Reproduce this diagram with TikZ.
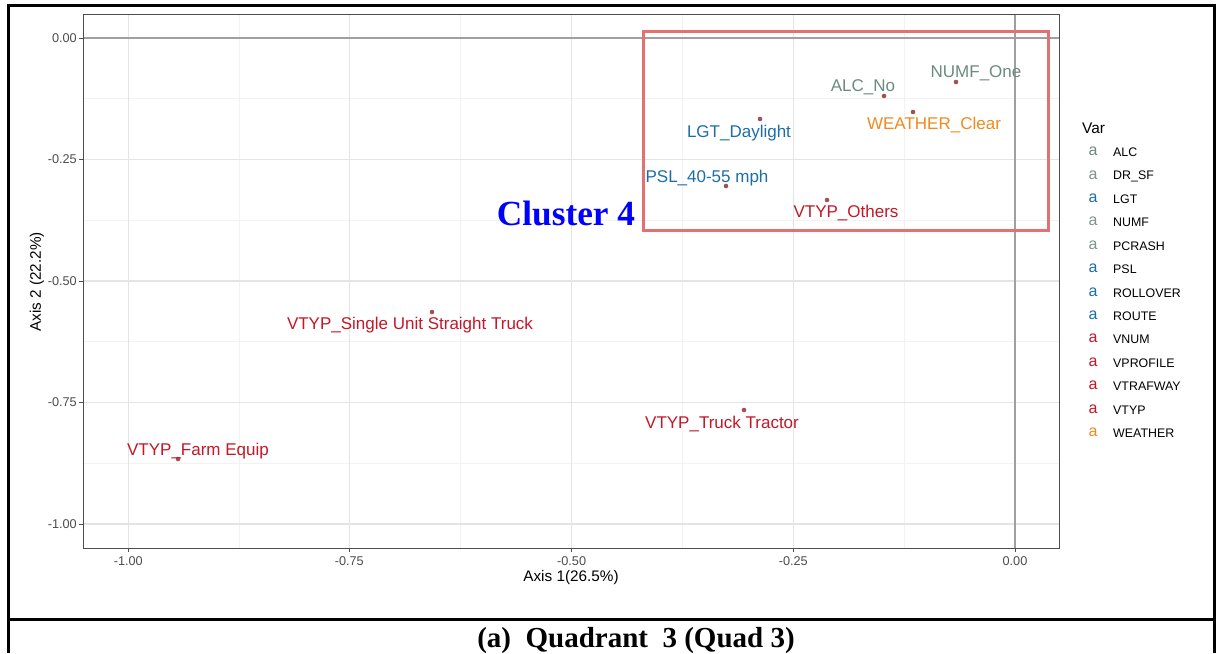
\documentclass[tikz,border=0pt]{standalone}
\usepackage{fontspec}
\setmainfont{Liberation Sans}
\newfontfamily\serifbf{Liberation Serif}
\definecolor{cgray}{RGB}{108,138,128}
\definecolor{cgrayb}{RGB}{128,148,138}
\definecolor{cblue}{RGB}{28,110,168}
\definecolor{corange}{RGB}{240,138,30}
\definecolor{cred}{RGB}{194,24,40}
\definecolor{cpt}{RGB}{160,82,82}
\definecolor{cbox}{RGB}{226,114,114}
\definecolor{gmaj}{RGB}{228,228,228}
\definecolor{gmin}{RGB}{242,242,242}
\definecolor{gzero}{RGB}{160,160,160}
\definecolor{tick}{RGB}{77,77,77}
\tikzset{
  ptdot/.style={circle,fill=cpt,inner sep=0pt,minimum size=4.6pt},
  lab/.style={inner sep=0pt,font=\fontsize{17}{19}\selectfont},
  ytl/.style={inner sep=0pt,anchor=east,text=tick,font=\fontsize{12.7}{14}\selectfont},
  xtl/.style={inner sep=0pt,anchor=center,text=tick,font=\fontsize{12.7}{14}\selectfont},
  legkey/.style={inner sep=0pt,font=\fontsize{16}{18}\selectfont},
  legtxt/.style={inner sep=0pt,anchor=west,font=\fontsize{12.4}{14}\selectfont},
  frameln/.style={line width=3pt,black},
}
\begin{document}
\begin{tikzpicture}[x=1pt,y=-1pt]
\useasboundingbox (0,0) rectangle (1217,653);
\fill[white] (0,0) rectangle (1217,653);
% minor grid
\foreach \gx in {239,460.8,682.5,904.2} \draw[gmin,line width=0.8pt] (\gx,14) -- (\gx,548);
\foreach \gy in {98.75,220.25,341.75,463.25} \draw[gmin,line width=0.8pt] (83,\gy) -- (1059,\gy);
% major grid
\foreach \gx in {128.3,349.3,571.6,793.3} \draw[gmaj,line width=1.1pt] (\gx,14) -- (\gx,548);
\foreach \gy in {159.5,281,402.5,524} \draw[gmaj,line width=1.1pt] (83,\gy) -- (1059,\gy);
% zero lines
\draw[gzero,line width=1.1pt] (1015,14) -- (1015,548);
\draw[gzero,line width=1.1pt] (83,38) -- (1059,38);
% panel border
\draw[color=tick,line width=1pt] (83,14) rectangle (1059,548);
% ticks
\foreach \gy in {38,159.5,281,402.5,524} \draw[tick,line width=1pt] (79,\gy) -- (83,\gy);
\foreach \gx in {128.3,349.3,571.6,793.3,1015} \draw[tick,line width=1pt] (\gx,548) -- (\gx,552);
% tick labels
\node[ytl] (y0) at (77,38) {0.00};
\node[ytl] (y1) at (77,159.5) {-0.25};
\node[ytl] (y2) at (77,281) {-0.50};
\node[ytl] (y3) at (77,402.5) {-0.75};
\node[ytl] (y4) at (77,524) {-1.00};
\node[xtl] (x0) at (128.3,561) {-1.00};
\node[xtl] (x1) at (349.3,561) {-0.75};
\node[xtl] (x2) at (571.6,561) {-0.50};
\node[xtl] (x3) at (793.3,561) {-0.25};
\node[xtl] (x4) at (1015,561) {0.00};
% axis titles
\node[inner sep=0pt,font=\fontsize{15.3}{17}\selectfont] (ax1) at (571,578) {Axis 1(26.5\%)};
\node[inner sep=0pt,rotate=90,font=\fontsize{15.3}{17}\selectfont] (ax2) at (37,282) {Axis 2 (22.2\%)};
% points and labels
\node[ptdot] (p1) at (956,82) {};
\node[lab,text=cgray] (l1) at (976,73.5) {NUMF\_One};
\node[ptdot] (p2) at (884,96) {};
\node[lab,text=cgray] (l2) at (863,87.5) {ALC\_No};
\node[ptdot] (p3) at (913,112) {};
\node[lab,text=corange] (l3) at (934,125.5) {WEATHER\_Clear};
\node[ptdot] (p4) at (760,119) {};
\node[lab,text=cblue] (l4) at (739,133.5) {LGT\_Daylight};
\node[ptdot] (p5) at (726,186) {};
\node[lab,text=cblue] (l5) at (707,178) {PSL\_40-55 mph};
\node[ptdot] (p6) at (827,200) {};
\node[lab,text=cred] (l6) at (846,213.5) {VTYP\_Others};
\node[ptdot] (p7) at (432,312) {};
\node[lab,text=cred] (l7) at (410,325.5) {VTYP\_Single Unit Straight Truck};
\node[ptdot] (p8) at (744,410) {};
\node[lab,text=cred] (l8) at (722,424.5) {VTYP\_Truck Tractor};
\node[ptdot] (p9) at (178,459) {};
\node[lab,text=cred] (l9) at (198,451.5) {VTYP\_Farm Equip};
% cluster box
\draw[cbox,line width=3pt] (643,31) rectangle (1048,230);
\node[inner sep=0pt,anchor=base,text=blue,font=\serifbf\bfseries\fontsize{35.3}{38}\selectfont] (c4) at (566,225) {Cluster 4};
% legend
\node[inner sep=0pt,anchor=west,font=\fontsize{15.4}{17}\selectfont] (lt) at (1082,128) {Var};
\foreach \i/\nm/\cl in {0/ALC/cgray,1/DR\_SF/cgrayb,2/LGT/cblue,3/NUMF/cgrayb,4/PCRASH/cgrayb,5/PSL/cblue,6/ROLLOVER/cblue,7/ROUTE/cblue,8/VNUM/cred,9/VPROFILE/cred,10/VTRAFWAY/cred,11/VTYP/cred,12/WEATHER/corange}{
  \node[legkey,text=\cl] (k\i) at (1093,{151.5+23.4*\i}) {a};
  \node[legtxt] (t\i) at (1113,{152.5+23.4*\i}) {\nm};
}
% frame
\draw[frameln] (8,653) -- (8,5) -- (1214,5) -- (1214,653);
\draw[frameln] (8,619) -- (1214,619);
\node[inner sep=0pt,anchor=base,font=\serifbf\bfseries\fontsize{29}{32}\selectfont] (cap) at (636,647) {(a)\ \ Quadrant\ \ 3 (Quad 3)};
\end{tikzpicture}
\end{document}
